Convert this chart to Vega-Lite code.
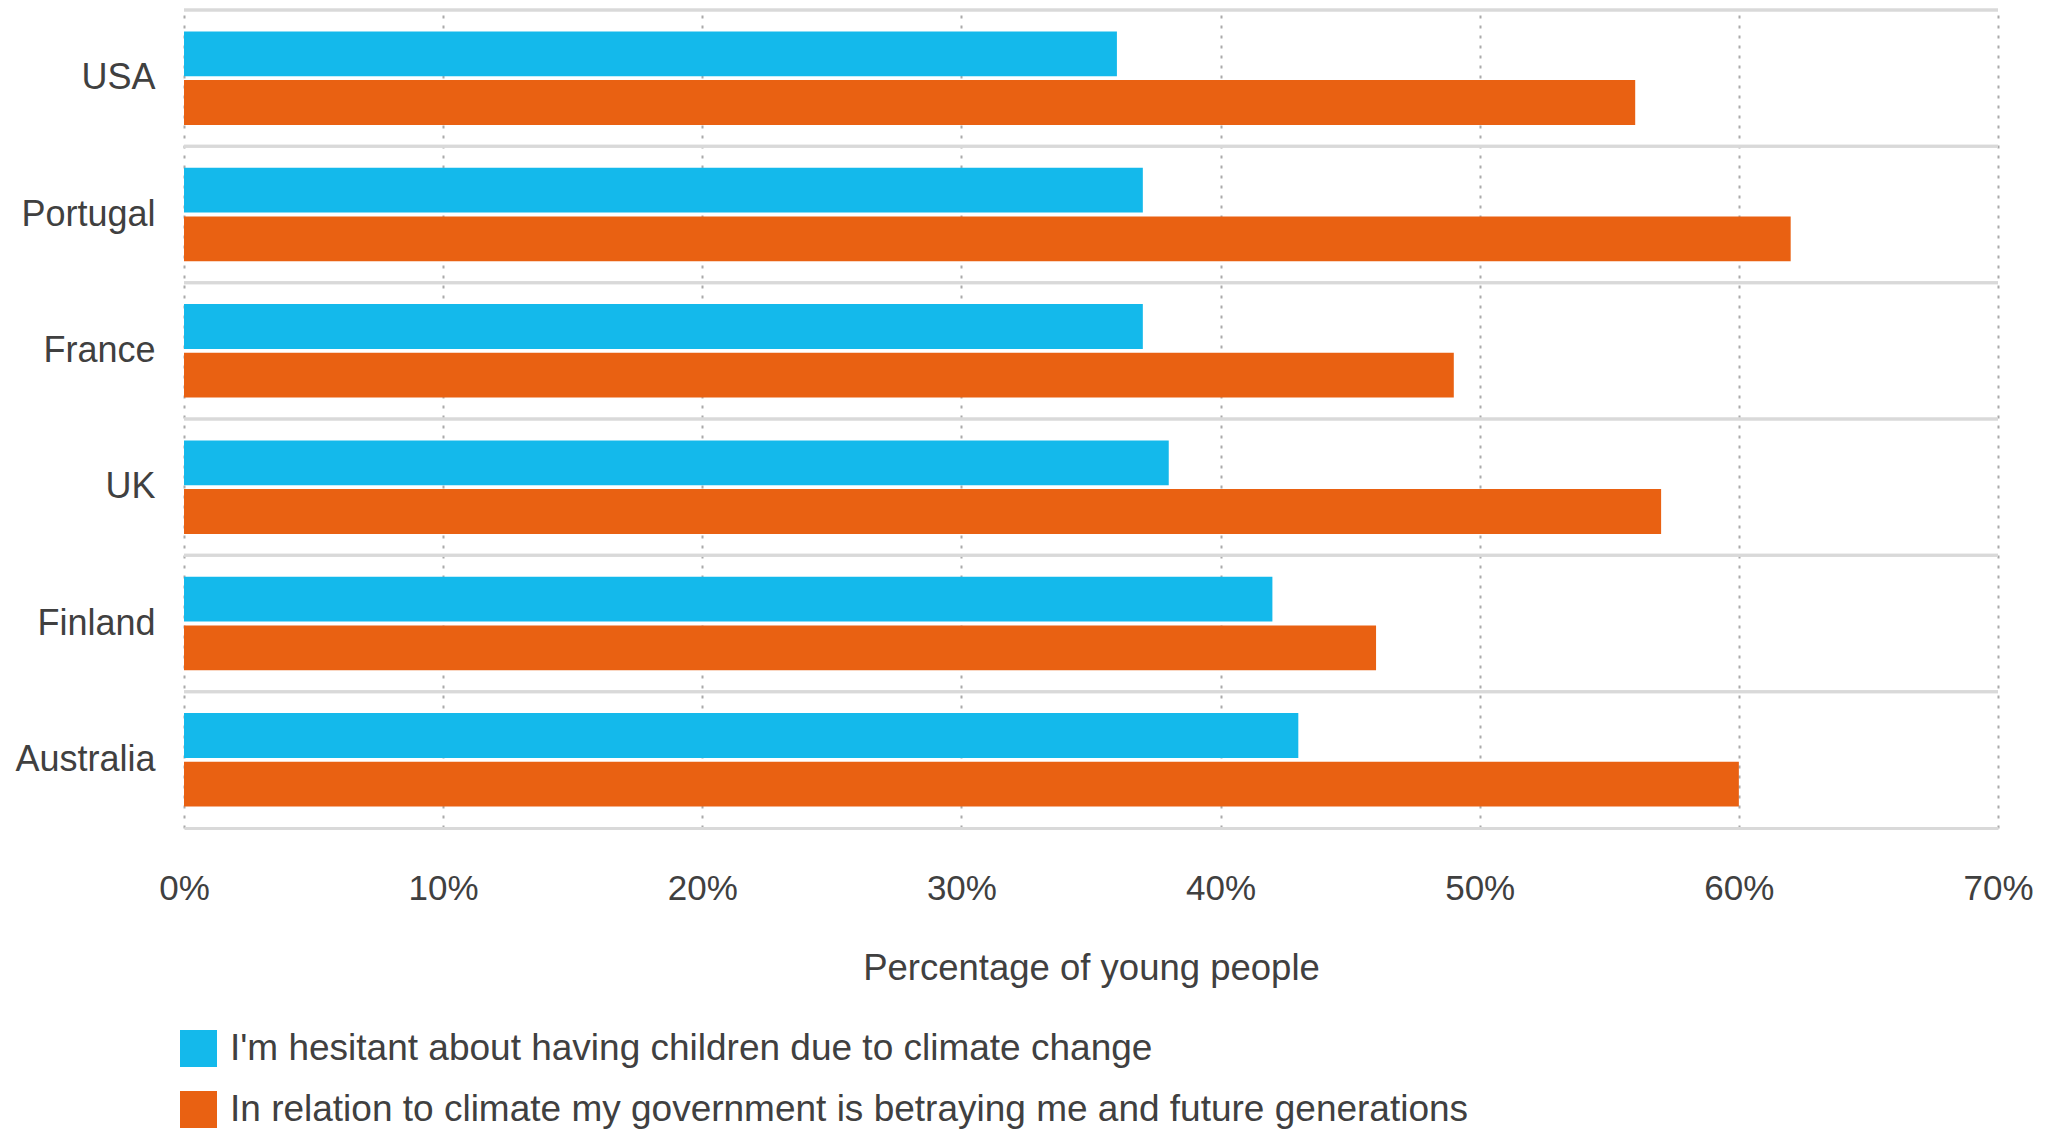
{
  "$schema": "https://vega.github.io/schema/vega-lite/v6.json",
  "width": 1814,
  "height": 818,
  "autosize": {"type": "none"},
  "padding": {"left": 184, "top": 10, "right": 64, "bottom": 302},
  "background": "white",
  "config": {
    "view": {"stroke": null},
    "font": "Liberation Sans",
    "axis": {"labelFont": "Liberation Sans", "titleFont": "Liberation Sans", "labelColor": "#404040", "titleColor": "#404040"},
    "legend": {"labelFont": "Liberation Sans"}
  },
  "data": {
    "values": [
      {"country": "USA", "series": "I'm hesitant about having children due to climate change", "value": 36},
      {"country": "USA", "series": "In relation to climate my government is betraying me and future generations", "value": 56},
      {"country": "Portugal", "series": "I'm hesitant about having children due to climate change", "value": 37},
      {"country": "Portugal", "series": "In relation to climate my government is betraying me and future generations", "value": 62},
      {"country": "France", "series": "I'm hesitant about having children due to climate change", "value": 37},
      {"country": "France", "series": "In relation to climate my government is betraying me and future generations", "value": 49},
      {"country": "UK", "series": "I'm hesitant about having children due to climate change", "value": 38},
      {"country": "UK", "series": "In relation to climate my government is betraying me and future generations", "value": 57},
      {"country": "Finland", "series": "I'm hesitant about having children due to climate change", "value": 42},
      {"country": "Finland", "series": "In relation to climate my government is betraying me and future generations", "value": 46},
      {"country": "Australia", "series": "I'm hesitant about having children due to climate change", "value": 43},
      {"country": "Australia", "series": "In relation to climate my government is betraying me and future generations", "value": 60}
    ]
  },
  "layer": [
    {
      "mark": {"type": "rule", "color": "#d9d9d9", "strokeWidth": 3},
      "encoding": {
        "y": {
          "field": "country", "type": "nominal", "bandPosition": 0,
          "sort": ["USA", "Portugal", "France", "UK", "Finland", "Australia"],
          "scale": {"paddingInner": 0, "paddingOuter": 0},
          "axis": {"title": null, "domain": false, "ticks": false, "tickSize": 0, "grid": false, "labelFontSize": 36, "labelPadding": 29, "labelLimit": 400}
        }
      }
    },
    {
      "mark": {"type": "bar"},
      "encoding": {
        "y": {
          "field": "country", "type": "nominal",
          "sort": ["USA", "Portugal", "France", "UK", "Finland", "Australia"],
          "scale": {"paddingInner": 0, "paddingOuter": 0},
          "axis": {"title": null, "domain": false, "ticks": false, "tickSize": 0, "grid": false, "labelFontSize": 36, "labelPadding": 29, "labelLimit": 400}
        },
        "x": {
          "field": "value", "type": "quantitative",
          "scale": {"domain": [0, 70], "nice": false},
          "axis": {
            "title": "Percentage of young people",
            "titleFontSize": 36.5, "titleFontWeight": "normal", "titleY": 140, "titleBaseline": "middle",
            "values": [0, 10, 20, 30, 40, 50, 60, 70],
            "labelExpr": "datum.value + '%'",
            "labelFontSize": 35, "labelBaseline": "middle", "labelPadding": 60, "labelFlush": false,
            "ticks": false, "tickSize": 0,
            "domain": true, "domainColor": "#d9d9d9", "domainWidth": 3,
            "grid": true, "gridColor": "#aaaaaa", "gridDash": [3, 7], "gridWidth": 2
          }
        },
        "yOffset": {
          "field": "series", "type": "nominal",
          "scale": {"domain": ["I'm hesitant about having children due to climate change", "In relation to climate my government is betraying me and future generations"], "paddingInner": 0.08, "paddingOuter": 0.44}
        },
        "color": {
          "field": "series", "type": "nominal",
          "scale": {"domain": ["I'm hesitant about having children due to climate change", "In relation to climate my government is betraying me and future generations"], "range": ["#14B9EB", "#E96112"]},
          "legend": {
            "title": null, "orient": "none", "legendX": -4, "legendY": 1020, "direction": "vertical",
            "symbolType": "square", "symbolSize": 1369, "symbolStrokeWidth": 0, "symbolOpacity": 1,
            "labelFontSize": 37, "labelColor": "#404040", "labelOffset": 13, "labelLimit": 2000,
            "rowPadding": 23, "padding": 0, "offset": 0
          }
        }
      }
    }
  ]
}
